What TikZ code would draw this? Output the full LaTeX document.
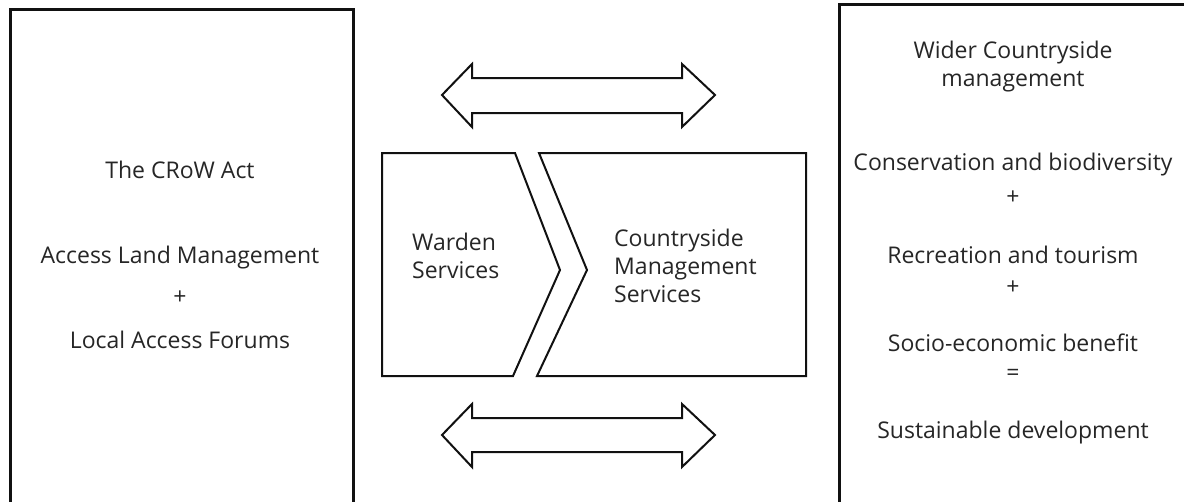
\documentclass[tikz,border=0pt]{standalone}
\usepackage{fontspec}
\setmainfont{Open Sans}
\usepackage{tikz}
\usetikzlibrary{positioning,calc}
\definecolor{ink}{HTML}{111111}
\definecolor{graphite}{HTML}{262626}

\begin{document}
\begin{tikzpicture}[
      x=1pt,y=-1pt,
      frame/.style={draw=ink,line width=3pt},
      outline/.style={draw=ink,line width=2pt,line join=miter},
      txt/.style={text=graphite,font=\fontsize{23}{28}\selectfont,inner sep=0pt,align=center},
      ltxt/.style={txt,align=left,anchor=west}]
      \useasboundingbox (0,0) rectangle (1184,501);
      % outer panels (cut by the page edge)
      \draw[frame] (10,9) rectangle (353,530);
      \draw[frame] (839,4) rectangle (1210,530);
      % service shapes
      \draw[outline] (382,153) -- (515,153) -- (560,270) -- (513,376) -- (382,376) -- cycle;
      \draw[outline] (539,153) -- (806,153) -- (806,376) -- (537,376) -- (587,270) -- cycle;
      % two-way arrows
      \draw[outline] (442,95) -- (472,64) -- (472,78) -- (682,78) -- (682,64) -- (715,95)
        -- (682,127) -- (682,113) -- (472,113) -- (472,127) -- cycle;
      \draw[outline] (442,435) -- (472,404) -- (472,418) -- (682,418) -- (682,404) -- (715,435)
        -- (682,467) -- (682,452) -- (472,452) -- (472,467) -- cycle;
      % left panel
      \node[txt] (crow) at (180,170) {The CRoW Act};
      \node[txt] (alm) at (180,258) {Access Land Management};
      \node[txt] (plusa) at (180,298) {+};
      \node[txt] (laf) at (180,340) {Local Access Forums};
      % middle
      \node[ltxt] (warden) at (412,256) {Warden\\Services};
      \node[ltxt] (cms) at (614,266) {Countryside\\Management\\Services};
      % right panel
      \node[txt] (wider) at (1013,67) {Wider Countryside\\management};
      \node[txt] (cons) at (1013,165) {Conservation and biodiversity};
      \node[txt] (plusb) at (1013,198) {+};
      \node[txt] (rec) at (1013,255) {Recreation and tourism};
      \node[txt] (plusc) at (1013,288) {+};
      \node[txt] (socio) at (1013,343) {Socio-economic benefit};
      \node[txt] (equals) at (1013,375) {=};
      \node[txt] (sust) at (1013,433) {Sustainable development};
    \end{tikzpicture}
\end{document}
